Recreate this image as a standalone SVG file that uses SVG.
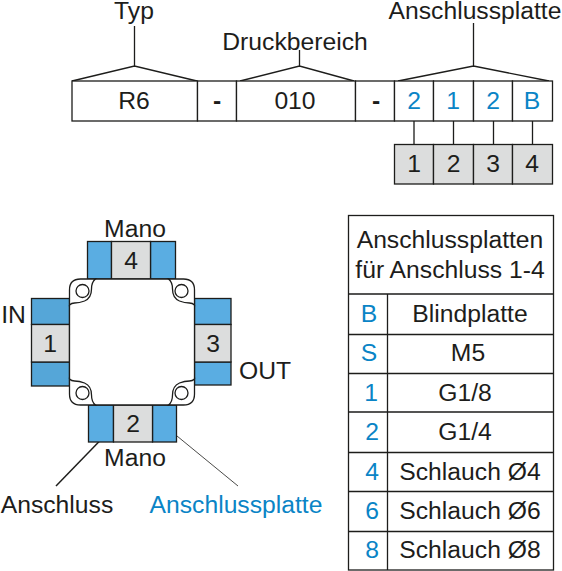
<svg xmlns="http://www.w3.org/2000/svg" width="562" height="571" viewBox="0 0 562 571">
<style>
.t{font-family:"Liberation Sans",Arial,sans-serif;font-size:24.7px;fill:#1d1d1b;text-anchor:middle}
.b{fill:#0a84c6}
.s{fill:none;stroke:#1d1d1b;stroke-width:1.3}
.c{fill:#fff;stroke:#1d1d1b;stroke-width:1.3}
.g{fill:#dcdddd;stroke:#1d1d1b;stroke-width:1.3}
.p{fill:#5aade2;stroke:#1d1d1b;stroke-width:1.3}
</style>
<defs>
<g id="corner">
<path class="s" d="M0 26V11Q0 0 11 0H26Q22 3 22 10Q22 19 15 22Q10 24 5 24Q2 24 0 26Z" style="fill:#fff"/>
<circle class="s" cx="13" cy="12" r="6.5"/>
</g>
</defs>
<g id="connectors">
<path class="s" d="M134.500 26V66M72 81L134.500 66L197 81M299.500 50V66M240 81L299.500 66L354 81M473.500 23V66M398 81L473.500 66L549 81"/>
<path class="s" d="M414 121V144M453.500 121V144M493.500 121V144M532.500 121V144"/>
<path class="s" style="stroke-width:1.500" d="M56 486L120 420"/>
<path class="s" style="stroke-width:.8" d="M177 436L238 486"/>
</g>
<g id="code-row">
<rect class="c" x="72" y="81" width="125.500" height="40"/><text class="t" x="134" y="109">R6</text>
<rect class="c" x="197.500" y="81" width="39" height="40"/><text class="t" x="217" y="109" style="font-weight:bold">-</text>
<rect class="c" x="236.500" y="81" width="119" height="40"/><text class="t" x="295" y="109">010</text>
<rect class="c" x="355.500" y="81" width="39" height="40"/><text class="t" x="376" y="109" style="font-weight:bold">-</text>
<rect class="c" x="394.500" y="81" width="39" height="40"/><text class="t b" x="414" y="109">2</text>
<rect class="c" x="433.500" y="81" width="40" height="40"/><text class="t b" x="453" y="109">1</text>
<rect class="c" x="473.500" y="81" width="39" height="40"/><text class="t b" x="493" y="109">2</text>
<rect class="c" x="512.500" y="81" width="40" height="40"/><text class="t b" x="532" y="109">B</text>
</g>
<g id="index-row">
<rect class="g" x="394.500" y="144.500" width="39" height="39.500"/><text class="t" x="414" y="172">1</text>
<rect class="g" x="433.500" y="144.500" width="40" height="39.500"/><text class="t" x="453.500" y="172">2</text>
<rect class="g" x="473.500" y="144.500" width="39" height="39.500"/><text class="t" x="493" y="172">3</text>
<rect class="g" x="512.500" y="144.500" width="40" height="39.500"/><text class="t" x="532" y="172">4</text>
</g>
<g id="headings">
<text class="t" x="134" y="18.500">Typ</text>
<text class="t" x="295" y="50">Druckbereich</text>
<text class="t" x="475" y="18.500">Anschlussplatte</text>
</g>
<g id="port-4">
<rect class="p" x="87.500" y="241.500" width="24" height="37.500"/><rect class="p" x="150.500" y="241.500" width="25" height="37.500"/>
<rect class="g" x="111.500" y="241.500" width="39" height="37.500"/><text class="t" x="131" y="269">4</text>
<text class="t" x="135" y="237">Mano</text>
</g>
<g id="port-1">
<rect class="p" x="31.500" y="298.500" width="38" height="26" style="fill:#55a6d8"/><rect class="p" x="31.500" y="362" width="38" height="24" style="fill:#55a6d8"/>
<rect class="g" x="31.500" y="324.500" width="38" height="37.500"/><text class="t" x="50" y="352">1</text>
<text class="t" x="13.500" y="323">IN</text>
</g>
<g id="port-3">
<rect class="p" x="194.500" y="298.500" width="36.500" height="26"/><rect class="p" x="194.500" y="362" width="36.500" height="23"/>
<rect class="g" x="194.500" y="324.500" width="36.500" height="37.500"/><text class="t" x="213" y="352">3</text>
<text class="t" x="265" y="379">OUT</text>
</g>
<g id="port-2">
<rect class="p" x="88.500" y="405" width="25" height="37"/><rect class="p" x="152.500" y="405" width="24" height="37"/>
<rect class="g" x="113.500" y="405" width="39" height="37"/><text class="t" x="133" y="432">2</text>
<text class="t" x="135" y="466">Mano</text>
</g>
<g id="body">
<rect x="69.500" y="279" width="125" height="126" fill="#fff"/>
<path class="s" d="M69.500 305V379M194.500 305V379M95 279H169M95 405H169"/>
<use href="#corner" x="69.500" y="279"/>
<use href="#corner" transform="translate(194.500 279) scale(-1 1)"/>
<use href="#corner" transform="translate(69.500 405) scale(1 -1)"/>
<use href="#corner" transform="translate(194.500 405) scale(-1 -1)"/>
</g>
<g id="labels">
<text class="t" x="57" y="513">Anschluss</text>
<text class="t b" x="236" y="513">Anschlussplatte</text>
</g>
<g id="table">
<rect class="c" x="348.500" y="215.500" width="205" height="354.500"/>
<path class="s" d="M348.500 294H553.500M348.500 334.500H553.500M348.500 373.500H553.500M348.500 412H553.500M348.500 452.500H553.500M348.500 491.500H553.500M348.500 531.500H553.500M387.500 294V570"/>
<text class="t" x="450" y="248">Anschlussplatten</text>
<text class="t" x="450" y="278">für Anschluss  1-4</text>
<text class="t b" x="369" y="322">B</text><text class="t" x="470" y="322">Blindplatte</text>
<text class="t b" x="369" y="361">S</text><text class="t" x="468" y="361">M5</text>
<text class="t b" x="371" y="401">1</text><text class="t" x="465" y="401">G1/8</text>
<text class="t b" x="372" y="440">2</text><text class="t" x="465" y="440">G1/4</text>
<text class="t b" x="372" y="480">4</text><text class="t" x="470" y="480">Schlauch Ø4</text>
<text class="t b" x="372" y="519">6</text><text class="t" x="470" y="519">Schlauch Ø6</text>
<text class="t b" x="372" y="558">8</text><text class="t" x="470" y="558">Schlauch Ø8</text>
</g>
</svg>
